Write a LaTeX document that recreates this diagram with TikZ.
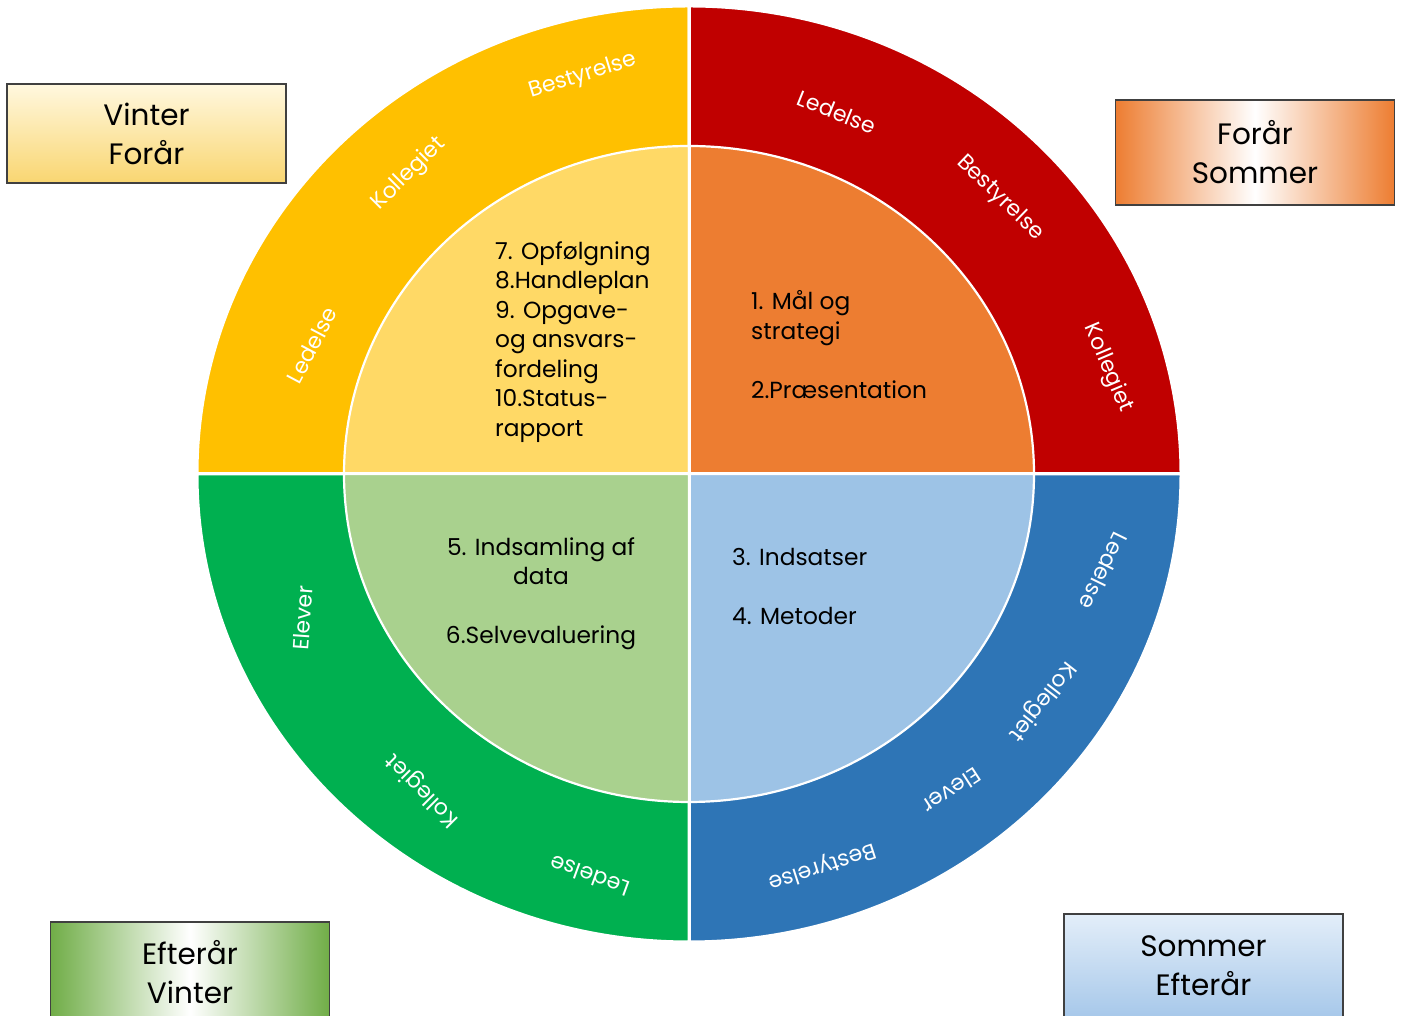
\documentclass[tikz,border=0pt]{standalone}
\usepackage{fontspec}
\setmainfont{Poppins}
\begin{document}
\begin{tikzpicture}[x=1pt,y=1pt,
  outer/.style={draw=white,line width=3pt,line join=round},
  inner/.style={draw=white,line width=2.2pt,line join=round},
  ringlabel/.style={text=white,font=\fontsize{22}{24}\selectfont,inner sep=0pt},
  innertext/.style={text=black,font=\fontsize{23.3}{29.5}\selectfont,inner sep=0pt},
  season/.style={draw=black!75,line width=1.3pt,text=black,minimum width=279,
     font=\fontsize{29.5}{39}\selectfont,align=center,inner sep=0pt}]
\definecolor{cyel}{HTML}{FFC000}
\definecolor{cyelL}{HTML}{FFD966}
\definecolor{cred}{HTML}{C00000}
\definecolor{cora}{HTML}{ED7D31}
\definecolor{cblu}{HTML}{2E75B6}
\definecolor{cbluL}{HTML}{9DC3E6}
\definecolor{cgrn}{HTML}{00B050}
\definecolor{cgrnL}{HTML}{A9D18E}
\definecolor{boxgrn}{HTML}{70AD47}
\definecolor{boxbluT}{HTML}{E3EEF9}
\definecolor{boxbluB}{HTML}{A7C8EA}
\definecolor{boxyelT}{HTML}{FFF8DF}
\definecolor{boxyelB}{HTML}{F9D671}
\useasboundingbox (0,0) rectangle (1403,1016);
\coordinate (C) at (689,542);
% outer quadrants
\fill[cyel,outer] (C) -- ++(-492,0) arc[start angle=180,end angle=90,x radius=492,y radius=468] -- cycle;
\fill[cred,outer] (C) -- ++(0,468) arc[start angle=90,end angle=0,x radius=492,y radius=468] -- cycle;
\fill[cblu,outer] (C) -- ++(492,0) arc[start angle=0,end angle=-90,x radius=492,y radius=468] -- cycle;
\fill[cgrn,outer] (C) -- ++(0,-468) arc[start angle=-90,end angle=-180,x radius=492,y radius=468] -- cycle;
% inner quadrants
\fill[cyelL,inner] (C) -- ++(-345,0) arc[start angle=180,end angle=90,x radius=345,y radius=328] -- cycle;
\fill[cora,inner] (C) -- ++(0,328) arc[start angle=90,end angle=0,x radius=345,y radius=328] -- cycle;
\fill[cbluL,inner] (C) -- ++(345,0) arc[start angle=0,end angle=-90,x radius=345,y radius=328] -- cycle;
\fill[cgrnL,inner] (C) -- ++(0,-328) arc[start angle=-90,end angle=-180,x radius=345,y radius=328] -- cycle;
\draw[white,line width=3pt] (C) ++(0,470) -- ++(0,-940);
\draw[white,line width=3pt] (C) ++(-494,0) -- ++(988,0);
% ring labels
\node[ringlabel,rotate=17] (y1) at (583,940) {Bestyrelse};
\node[ringlabel,rotate=45] (y2) at (409,842) {Kollegiet};
\node[ringlabel,rotate=62] (y3) at (312,671) {Ledelse};
\node[ringlabel,rotate=-22] (r1) at (837,904) {Ledelse};
\node[ringlabel,rotate=-44] (r2) at (1000,818) {Bestyrelse};
\node[ringlabel,rotate=-67] (r3) at (1108,648) {Kollegiet};
\node[ringlabel,rotate=-116] (b1) at (1104,445) {Ledelse};
\node[ringlabel,rotate=-128] (b2) at (1042,315) {Kollegiet};
\node[ringlabel,rotate=-147] (b3) at (952,225) {Elever};
\node[ringlabel,rotate=-162] (b4) at (822,150) {Bestyrelse};
\node[ringlabel,rotate=86] (g1) at (303,398) {Elever};
\node[ringlabel,rotate=135] (g2) at (423,226) {Kollegiet};
\node[ringlabel,rotate=160] (g3) at (590,140) {Ledelse};
% inner texts
\node[innertext,anchor=west,align=left] (ty) at (495,674) {7. Opfølgning\\8.Handleplan\\9. Opgave-\\og ansvars-\\fordeling\\10.Status-\\rapport};
\node[innertext,anchor=west,align=left] (to) at (751,671.5) {1. Mål og\\strategi\\\mbox{}\\2.Præsentation};
\node[innertext,align=center] (tg) at (541,422) {5. Indsamling af\\data\\\mbox{}\\6.Selvevaluering};
\node[innertext,anchor=west,align=left] (tb) at (732,429.5) {3. Indsatser\\\mbox{}\\4. Metoder};
% season boxes
\node[season,minimum height=99,top color=boxyelT,bottom color=boxyelB] (s1) at (146.5,882.5) {Vinter\\Forår};
\node[season,minimum height=105,left color=cora,right color=cora,middle color=white] (s2) at (1255,863.5) {Forår\\Sommer};
\node[season,minimum height=100,left color=boxgrn,right color=boxgrn,middle color=white] (s3) at (190,44) {Efterår\\Vinter};
\node[season,minimum height=103,top color=boxbluT,bottom color=boxbluB] (s4) at (1203.5,50.5) {Sommer\\Efterår};
\end{tikzpicture}
\end{document}
